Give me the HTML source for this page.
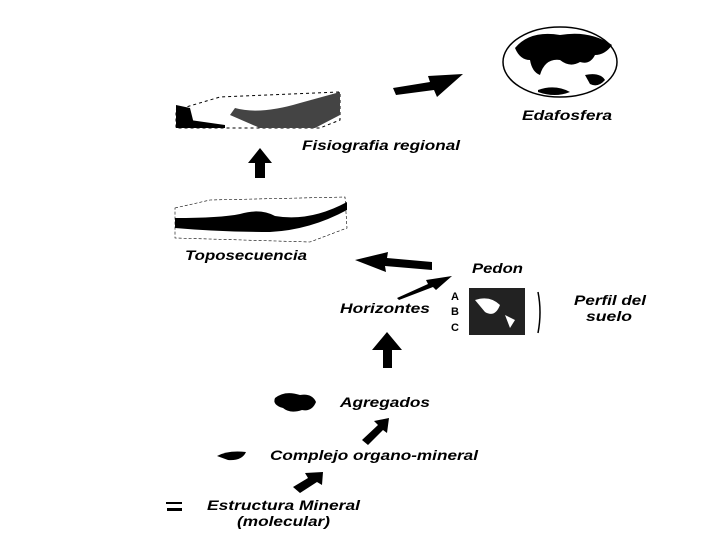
<!DOCTYPE html>
<html><head><style>
html,body{margin:0;padding:0;background:#fff;width:720px;height:540px;overflow:hidden}
svg{display:block}
text{font-family:"Liberation Sans",Arial,sans-serif;font-weight:bold;font-style:italic;font-size:14px;fill:#000}
</style></head><body>
<svg width="720" height="540" viewBox="0 0 720 540">
<!-- globe -->
<ellipse cx="560" cy="62" rx="57" ry="35" fill="#fff" stroke="#000" stroke-width="1.5"/>
<path d="M515 48 Q530 30 560 35 Q590 30 612 45 Q605 55 595 55 Q590 65 580 62 Q570 68 560 60 Q545 58 540 75 Q532 72 530 60 Q520 60 515 48Z" fill="#000"/>
<path d="M585 75 Q600 72 605 80 Q598 88 590 84Z" fill="#000"/>
<path d="M538 90 Q555 84 570 92 Q555 98 538 92Z" fill="#000"/>
<!-- arrow to globe -->
<polygon points="393,88 430,82 428,76 463,74 437,97 434,90 396,95" fill="#000"/>
<text x="522" y="120" textLength="90" lengthAdjust="spacingAndGlyphs">Edafosfera</text>
<!-- fisiografia block -->
<g fill="#000">
<polygon points="176,110 220,97 340,92 340,120 320,128 176,128" fill="#fff" stroke="#000" stroke-dasharray="3,3"/>
<path d="M176 105 L190 108 L195 128 L176 128Z"/>
<path d="M235 108 Q260 115 300 103 L340 92 L340 115 L315 128 L260 128 L230 115Z" fill="#444"/>
<path d="M190 120 L225 125 L225 128 L190 128Z"/>
</g>
<text x="302" y="150" textLength="158" lengthAdjust="spacingAndGlyphs">Fisiografia regional</text>
<polygon points="255,178 265,178 265,163 272,163 260,148 248,163 255,163" fill="#000"/>
<!-- toposecuencia -->
<polygon points="175,208 210,200 345,197 347,228 310,242 175,238" fill="#fff" stroke="#000" stroke-width="0.6" stroke-dasharray="3,2"/>
<path d="M175 218 Q220 218 240 214 Q260 208 275 216 Q310 222 347 202 L347 210 Q310 230 270 232 Q220 232 175 228Z" fill="#000"/>
<text x="185" y="260" textLength="122" lengthAdjust="spacingAndGlyphs">Toposecuencia</text>
<polygon points="432,262 432,270 385,266 386,272 355,260 388,252 387,258" fill="#000"/>
<text x="472" y="273" textLength="51" lengthAdjust="spacingAndGlyphs">Pedon</text>
<polygon points="397,298 428,284 426,280 452,276 436,290 433,287 399,300" fill="#000"/>
<text x="451" y="300" style="font-style:normal;font-size:11px">A</text><text x="451" y="315" style="font-style:normal;font-size:11px">B</text><text x="451" y="331" style="font-style:normal;font-size:11px">C</text>
<rect x="469" y="288" width="56" height="47" fill="#222"/>
<path d="M475 300 Q490 295 500 305 Q495 318 485 312Z M505 315 L515 320 L510 328Z" fill="#fff"/>
<path d="M538 292 Q542 312 538 333" fill="none" stroke="#000" stroke-width="1.5"/>
<text x="574" y="305" textLength="72" lengthAdjust="spacingAndGlyphs">Perfil del</text>
<text x="586" y="321" textLength="46" lengthAdjust="spacingAndGlyphs">suelo</text>
<text x="340" y="313" textLength="90" lengthAdjust="spacingAndGlyphs">Horizontes</text>
<polygon points="383,368 392,368 392,350 402,350 387,332 372,350 383,350" fill="#000"/>
<path d="M275 398 Q285 390 300 395 Q312 393 316 402 Q312 412 302 410 Q290 414 283 408 Q272 405 275 398Z" fill="#000"/>
<text x="340" y="407" textLength="90" lengthAdjust="spacingAndGlyphs">Agregados</text>
<polygon points="362,440 378,425 374,421 389,418 387,433 383,430 368,445" fill="#000"/>
<path d="M217 456 Q228 450 246 452 Q242 461 228 460Z" fill="#000"/>
<text x="270" y="460" textLength="208" lengthAdjust="spacingAndGlyphs">Complejo organo-mineral</text>
<polygon points="293,487 308,478 305,473 323,472 322,485 317,482 300,493" fill="#000"/>
<rect x="166" y="502" width="16" height="2" fill="#000"/><rect x="167" y="508" width="15" height="3" fill="#000"/>
<text x="207" y="510" textLength="153" lengthAdjust="spacingAndGlyphs">Estructura Mineral</text>
<text x="237" y="526" textLength="93" lengthAdjust="spacingAndGlyphs">(molecular)</text>
</svg>
</body></html>
